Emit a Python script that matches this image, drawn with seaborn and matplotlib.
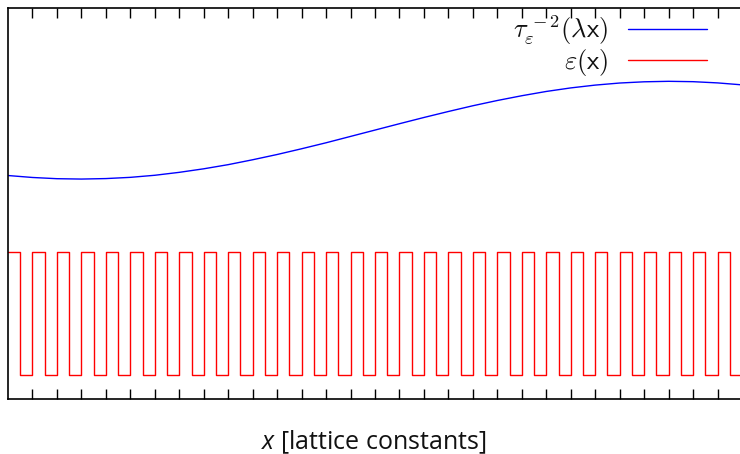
import matplotlib
matplotlib.use("Agg")
import matplotlib.pyplot as plt
import seaborn as sns
import pandas as pd

# --- data ---
x_cells = [0, 1, 2, 3, 4, 5, 6, 7, 8, 9, 10, 11, 12, 13, 14, 15, 16, 17, 18, 19,
           20, 21, 22, 23, 24, 25, 26, 27, 28, 29, 30]
tau_values = [2.629, 2.613, 2.603, 2.600, 2.604, 2.614, 2.631, 2.655, 2.684, 2.718,
              2.758, 2.801, 2.848, 2.897, 2.949, 3.001, 3.053, 3.104, 3.153, 3.200,
              3.243, 3.282, 3.317, 3.346, 3.369, 3.386, 3.396, 3.400, 3.397, 3.387,
              3.371]

x_half = [0, 0.5, 1, 1.5, 2, 2.5, 3, 3.5, 4, 4.5, 5, 5.5, 6, 6.5, 7, 7.5, 8, 8.5,
          9, 9.5, 10, 10.5, 11, 11.5, 12, 12.5, 13, 13.5, 14, 14.5, 15, 15.5, 16,
          16.5, 17, 17.5, 18, 18.5, 19, 19.5, 20, 20.5, 21, 21.5, 22, 22.5, 23,
          23.5, 24, 24.5, 25, 25.5, 26, 26.5, 27, 27.5, 28, 28.5, 29, 29.5, 30]
eps_values = [2, 1, 2, 1, 2, 1, 2, 1, 2, 1, 2, 1, 2, 1, 2, 1, 2, 1, 2, 1,
              2, 1, 2, 1, 2, 1, 2, 1, 2, 1, 2, 1, 2, 1, 2, 1, 2, 1, 2, 1,
              2, 1, 2, 1, 2, 1, 2, 1, 2, 1, 2, 1, 2, 1, 2, 1, 2, 1, 2, 1, 2]

tau_label = r"$\tau_\varepsilon^{\,-2}(\lambda \mathsf{x})$"
eps_label = r"$\varepsilon(\mathsf{x})$"
xlabel_text = r"$x$ [lattice constants]"

sns.set_theme(style="white")
plt.rcParams["font.family"] = ["Open Sans", "DejaVu Sans"]
plt.rcParams["mathtext.fontset"] = "custom"
plt.rcParams["mathtext.rm"] = "Open Sans"
plt.rcParams["mathtext.it"] = "Open Sans:italic"
plt.rcParams["mathtext.sf"] = "Open Sans"

df_tau = pd.DataFrame({"x": x_cells, "y": tau_values})
df_eps = pd.DataFrame({"x": x_half, "y": eps_values})

fig = plt.figure(figsize=(7.4, 4.54), dpi=100)
ax = fig.add_axes([8 / 740, 1 - 399 / 454, 734 / 740, 391 / 454])

sns.lineplot(data=df_tau, x="x", y="y", ax=ax, color="#0000ff", lw=1.0,
             estimator=None, sort=False, label=tau_label)
sns.lineplot(data=df_eps, x="x", y="y", ax=ax, color="#ff0000", lw=1.0,
             estimator=None, sort=False, drawstyle="steps-post", label=eps_label)

ax.set_xlim(0, 30)
ax.set_ylim(0.8, 4.0)
ax.set_xticks(list(range(1, 30)))
ax.set_yticks([])
ax.tick_params(axis="x", which="both", direction="in", length=7, width=1.0,
               color="black", top=True, bottom=True, labelbottom=False,
               labeltop=False)
for side in ["left", "top", "bottom", "right"]:
    ax.spines[side].set_color("black")
    ax.spines[side].set_linewidth(1.2)
ax.spines["right"].set_visible(False)

ax.set_ylabel("")
ax.set_xlabel(xlabel_text, fontsize=18, color="#111111", math_fontfamily="custom")
ax.xaxis.set_label_coords((374 - 8) / 734, (399 - 428) / 391)

leg = ax.legend(loc="upper right", bbox_to_anchor=((707 - 8) / 734, 0.985),
                frameon=False, markerfirst=False, fontsize=19,
                handlelength=3.0, handletextpad=0.75, borderpad=0,
                borderaxespad=0, labelspacing=0.0)
for t in leg.get_texts():
    t.set_math_fontfamily("cm")
    t.set_color("#111111")

fig.savefig("out.png", dpi=100)
